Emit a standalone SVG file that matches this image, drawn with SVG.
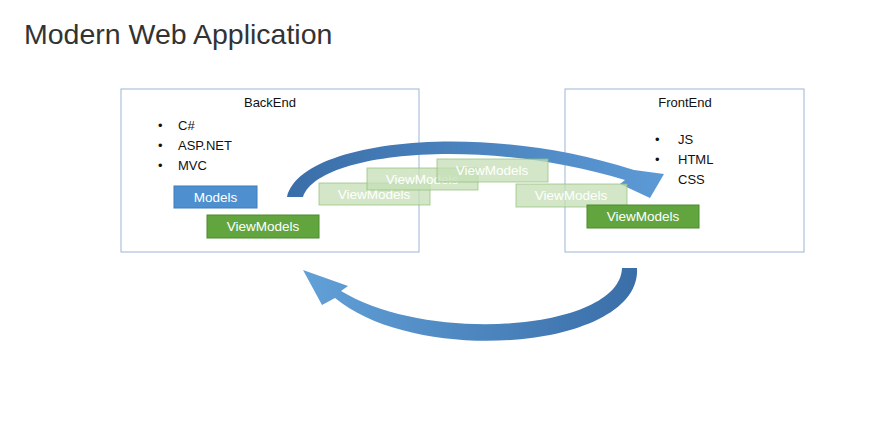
<svg xmlns="http://www.w3.org/2000/svg" width="887" height="434" viewBox="0 0 887 434">
<style>
.t{font-family:"Liberation Sans",Arial,sans-serif;font-size:13px;fill:#111}
.w{font-family:"Liberation Sans",Arial,sans-serif;font-size:13.5px;fill:#fff;text-anchor:middle}
.box{fill:#fff;stroke:#9bb5d6;stroke-width:1}
.vm{fill:#62a53e;stroke:#4d8a2e}
.fade{fill:#c4dfb5;fill-opacity:.75;stroke:#8fbf76;stroke-opacity:.7}
</style>
<defs>
<linearGradient id="g1" x1="0" y1="0" x2="1" y2="0"><stop offset="0" stop-color="#3a6ea8"/><stop offset="1" stop-color="#5c9ad6"/></linearGradient>
<linearGradient id="g2" x1="1" y1="0" x2="0" y2="0"><stop offset="0" stop-color="#3a6ea8"/><stop offset="1" stop-color="#62a0d8"/></linearGradient>
</defs>
<rect width="887" height="434" fill="#fff"/>
<text x="24" y="44" style="font-family:'Liberation Sans',Arial,sans-serif;font-size:28.5px;fill:#333">Modern Web Application</text>
<g id="backend">
<rect class="box" x="121" y="89" width="298" height="163"/>
<text class="t" x="270" y="107" text-anchor="middle">BackEnd</text>
<text class="t" x="158" y="130">•</text><text class="t" x="178" y="130">C#</text>
<text class="t" x="158" y="150">•</text><text class="t" x="178" y="150">ASP.NET</text>
<text class="t" x="158" y="170">•</text><text class="t" x="178" y="170">MVC</text>
</g>
<g id="frontend">
<rect class="box" x="565" y="89" width="239" height="163"/>
<text class="t" x="685" y="107" text-anchor="middle">FrontEnd</text>
<text class="t" x="655" y="144">•</text><text class="t" x="678" y="144">JS</text>
<text class="t" x="655" y="164">•</text><text class="t" x="678" y="164">HTML</text>
<text class="t" x="655" y="184">•</text><text class="t" x="678" y="184">CSS</text>
</g>
<g id="connectors">
<path fill="url(#g1)" d="M287,197 C300,140 480,120 634,170 L664,174 L650,198 L620,184 L625,180 C480,136 318,152 303,197 Z"/>
<path fill="url(#g2)" d="M637,268 C642,348 420,368 335,298 L322,305 L303,270 L348,286 L341,291 C430,345 620,330 622,268 Z"/>
</g>
<g id="models"><rect x="174" y="186" width="83" height="22" fill="#4e8fd0" stroke="#3f7cbb"/><text class="w" x="215.5" y="202">Models</text></g>
<g id="vm-back"><rect class="vm" x="207" y="215" width="112" height="23"/><text class="w" x="263" y="231">ViewModels</text></g>
<g id="vm-f1"><rect class="fade" x="319" y="183" width="111" height="22"/><text class="w" x="374" y="199">ViewModels</text></g>
<g id="vm-f2"><rect class="fade" x="367" y="168" width="111" height="22"/><text class="w" x="422" y="184">ViewModels</text></g>
<g id="vm-f3"><rect class="fade" x="437" y="159" width="111" height="23"/><text class="w" x="492" y="175">ViewModels</text></g>
<g id="vm-f4"><rect class="fade" x="516" y="184" width="111" height="23"/><text class="w" x="571" y="200">ViewModels</text></g>
<g id="vm-front"><rect class="vm" x="587" y="205" width="112" height="23"/><text class="w" x="643" y="221">ViewModels</text></g>
</svg>
